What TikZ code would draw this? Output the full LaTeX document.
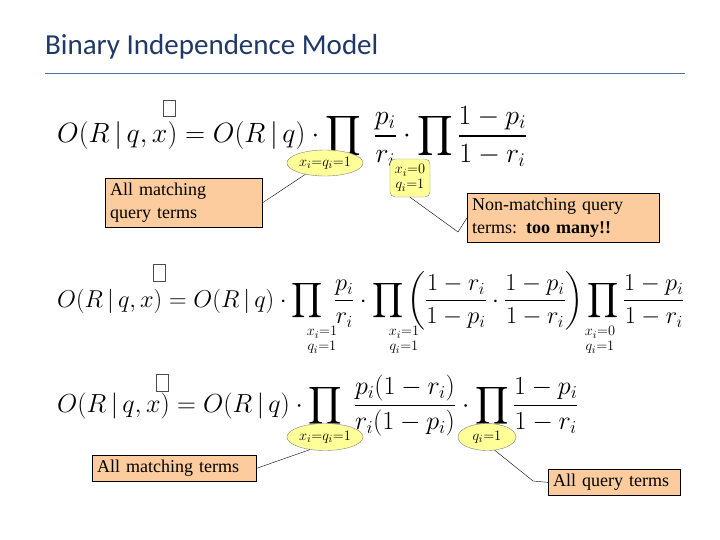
\documentclass[tikz,border=0pt]{standalone}
\usepackage{fontspec}
\usepackage{amsmath}
\usepackage{graphicx}
\setmainfont{Liberation Serif}
\newfontfamily\titlefont{Carlito}
\usetikzlibrary{shapes.geometric,positioning}
\definecolor{titleblue}{rgb}{0.12,0.22,0.40}
\definecolor{ruleblue}{rgb}{0.30,0.45,0.65}
\definecolor{boxorange}{rgb}{0.99,0.80,0.62}
\definecolor{bubbleyellow}{rgb}{1,1,0.6}
\tikzset{
  formula/.style={anchor=base west,inner sep=0pt,font=\fontsize{25}{30}\selectfont},
  note/.style={draw=black,fill=boxorange,anchor=north west,align=left,inner sep=5pt,font=\fontsize{18}{23}\selectfont},
  bubble/.style={ellipse,draw=gray,fill=bubbleyellow,inner sep=1pt,font=\fontsize{15}{15}\selectfont},
  rbubble/.style={rectangle,rounded corners=5pt,draw=gray,fill=bubbleyellow,inner sep=2pt,align=center,font=\fontsize{15}{15}\selectfont},
  sub/.style={align=center,inner sep=0pt,font=\fontsize{15}{15}\selectfont},
  glyphbox/.style={draw=black!70,line width=0.5pt},
  leader/.style={draw=black,line width=0.4pt}
}
\begin{document}
\begin{tikzpicture}[x=1pt,y=-1pt]
\useasboundingbox (0,0) rectangle (720,540);
% title
\node[anchor=west,inner sep=0pt,text=titleblue,font=\titlefont\fontsize{29}{32}\selectfont] (title) at (45,47) {Binary Independence Model};
\draw[ruleblue,line width=1pt] (45,74) -- (685,74);
% first line
\node[formula] (eqa) at (57,143) {\scalebox{1.12}{$O(R\,|\,q,x)=O(R\,|\,q)\cdot\displaystyle\prod\nolimits\;\frac{p_i}{r_i}\cdot\prod\nolimits\frac{1-p_i}{1-r_i}$}};
\draw[glyphbox] (163,100) rectangle (175,116);
\node[bubble,minimum width=64pt,minimum height=26pt] (ba) at (325,163) {$x_i{=}q_i{=}1$};
\node[rbubble,minimum width=40pt,minimum height=38pt] (bb) at (410,178) {$x_i{=}0$\\$q_i{=}1$};
\node[note,text width=147pt] (na) at (105,178) {All matching\\query terms};
\node[note,text width=182pt] (nb) at (467,193) {Non-matching query\\terms: \textbf{too many!!}};
\coordinate (ka) at (458,232);
\draw[leader] (ba.210) -- (na.east);
\draw[leader] (bb.south) -- (ka) -- (nb.west);
% second line
\node[formula] (eqb) at (57,307) {\scalebox{0.98}{$O(R\,|\,q,x)=O(R\,|\,q)\cdot\displaystyle\prod\nolimits\;\frac{p_i}{r_i}\cdot\prod\nolimits\left(\frac{1-r_i}{1-p_i}\cdot\frac{1-p_i}{1-r_i}\right)\prod\nolimits\frac{1-p_i}{1-r_i}$}};
\draw[glyphbox] (153,264) rectangle (165,281);
\node[sub] (sa) at (322,340) {$x_i{=}1$\\$q_i{=}1$};
\node[sub] (sb) at (404,340) {$x_i{=}1$\\$q_i{=}1$};
\node[sub] (sc) at (600,340) {$x_i{=}0$\\$q_i{=}1$};
% third line
\node[formula] (eqc) at (57,412) {\scalebox{1.05}{$O(R\,|\,q,x)=O(R\,|\,q)\cdot\displaystyle\prod\nolimits\;\frac{p_i(1-r_i)}{r_i(1-p_i)}\cdot\prod\nolimits\frac{1-p_i}{1-r_i}$}};
\draw[glyphbox] (156,374) rectangle (168,391);
\node[bubble,minimum width=74pt,minimum height=27pt] (bc) at (325,437) {$x_i{=}q_i{=}1$};
\node[bubble,minimum width=58pt,minimum height=27pt] (bd) at (487,437) {$q_i{=}1$};
\node[note,text width=154pt] (nc) at (92,455) {All matching terms};
\node[note,text width=122pt] (nd) at (548,469) {All query terms};
\coordinate (kb) at (533,481);
\draw[leader] (bc.220) -- (nc.east);
\draw[leader] (bd.300) -- (kb) -- (nd.west);
\end{tikzpicture}
\end{document}
